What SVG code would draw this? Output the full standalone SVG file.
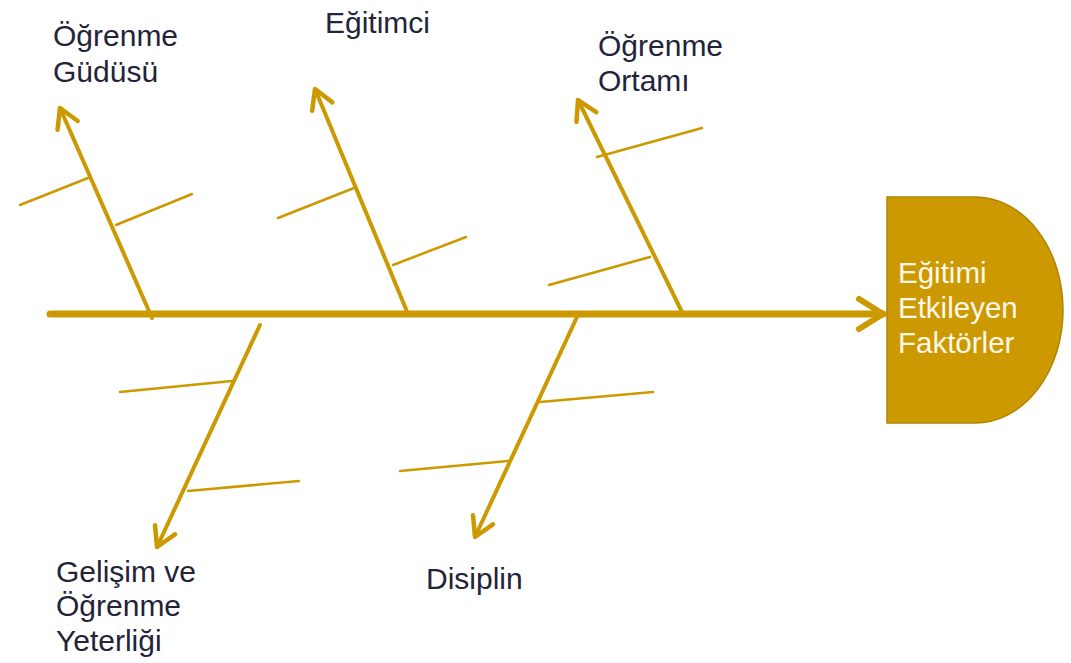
<svg xmlns="http://www.w3.org/2000/svg" width="1071" height="663" viewBox="0 0 1071 663">
<style>
.bone{stroke:#CC9900;fill:none;stroke-linecap:round;stroke-linejoin:round}
.spine{stroke-width:7}
.branch{stroke-width:4}
.rib{stroke-width:2.5}
.lbl{font-family:"Liberation Sans",Arial,sans-serif;font-size:30px;fill:#23233a}
.head-txt{font-family:"Liberation Sans",Arial,sans-serif;font-size:29.5px;fill:#fff8ea}
</style>
<defs>
<marker id="arr" markerUnits="userSpaceOnUse" viewBox="-26 -16 30 32" refX="0" refY="0" markerWidth="30" markerHeight="32" orient="auto" overflow="visible">
<path d="M-19,-11 L0,0 L-19,11" fill="none" stroke="#CC9900" stroke-width="4.5" stroke-linecap="round" stroke-linejoin="round"/>
</marker>
<marker id="arrMain" markerUnits="userSpaceOnUse" viewBox="-30 -20 34 40" refX="0" refY="0" markerWidth="34" markerHeight="40" orient="auto" overflow="visible">
<path d="M-24,-15 L0,0 L-24,15" fill="none" stroke="#CC9900" stroke-width="6" stroke-linecap="round" stroke-linejoin="round"/>
</marker>
</defs>
<rect width="1071" height="663" fill="#ffffff"/>
<g id="connectors">
<line class="bone spine" x1="50" y1="314" x2="883" y2="314" marker-end="url(#arrMain)"/>
<line class="bone branch" x1="152" y1="318" x2="60" y2="108" marker-end="url(#arr)"/>
<line class="bone rib" x1="20" y1="205" x2="88" y2="178"/>
<line class="bone rib" x1="116" y1="225" x2="192" y2="194"/>
<line class="bone branch" x1="408" y1="314" x2="315" y2="89" marker-end="url(#arr)"/>
<line class="bone rib" x1="278" y1="218" x2="354" y2="188"/>
<line class="bone rib" x1="393" y1="265" x2="466" y2="237"/>
<line class="bone branch" x1="682" y1="312" x2="578" y2="100" marker-end="url(#arr)"/>
<line class="bone rib" x1="597" y1="157" x2="702" y2="128"/>
<line class="bone rib" x1="549" y1="285" x2="650" y2="257"/>
<line class="bone branch" x1="260" y1="325" x2="157" y2="547" marker-end="url(#arr)"/>
<line class="bone rib" x1="120" y1="392" x2="232" y2="381"/>
<line class="bone rib" x1="188" y1="491" x2="299" y2="481"/>
<line class="bone branch" x1="577" y1="317" x2="475" y2="537" marker-end="url(#arr)"/>
<line class="bone rib" x1="540" y1="402" x2="653" y2="392"/>
<line class="bone rib" x1="400" y1="471" x2="508" y2="461"/>
</g>
<g id="head">
<path d="M887,197 H975 A88,113 0 0 1 975,423 H887 Z" fill="#CC9900" stroke="#B08400" stroke-width="1.5"/>
<text class="head-txt" x="898" y="283">Eğitimi</text>
<text class="head-txt" x="898" y="318">Etkileyen</text>
<text class="head-txt" x="898" y="353">Faktörler</text>
</g>
<g id="ogrenme-gudusu">
<text class="lbl" x="53" y="46">Öğrenme</text>
<text class="lbl" x="53" y="82">Güdüsü</text>
</g>
<g id="egitimci">
<text class="lbl" x="325" y="33">Eğitimci</text>
</g>
<g id="ogrenme-ortami">
<text class="lbl" x="598" y="56">Öğrenme</text>
<text class="lbl" x="598" y="91">Ortamı</text>
</g>
<g id="gelisim">
<text class="lbl" x="56" y="582">Gelişim ve</text>
<text class="lbl" x="56" y="616">Öğrenme</text>
<text class="lbl" x="56" y="651">Yeterliği</text>
</g>
<g id="disiplin">
<text class="lbl" x="426" y="589">Disiplin</text>
</g>
</svg>
